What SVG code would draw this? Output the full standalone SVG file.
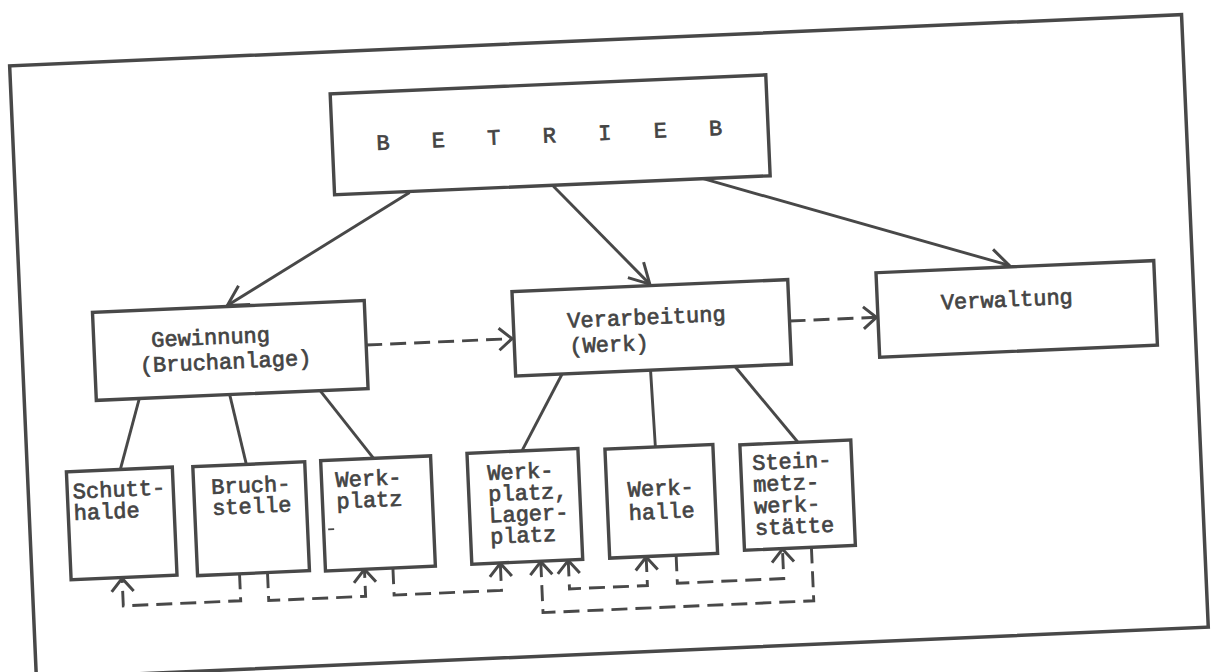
<svg xmlns="http://www.w3.org/2000/svg" width="1217" height="672" viewBox="0 0 1217 672">
  <style>
    .frame { fill: none; stroke: #484848; stroke-width: 3.5; }
    .box { fill: #ffffff; stroke: #484848; stroke-width: 3.4; }
    .solid { fill: none; stroke: #484848; stroke-width: 2.9; }
    .dash { fill: none; stroke: #484848; stroke-width: 2.9; stroke-dasharray: 16 8; }
    text { font-family: "Liberation Mono", "Courier New", monospace; font-size: 22px; fill: #444444; stroke: #444444; stroke-width: 0.7; }
  </style>
  <defs>
    <marker id="arrowBig" viewBox="-24 -15 26 30" markerWidth="26" markerHeight="30" refX="0" refY="0" orient="auto" markerUnits="userSpaceOnUse">
      <path d="M-20,-11 L0,0 L-20,11" fill="none" stroke="#484848" stroke-width="3" stroke-dasharray="none"/>
    </marker>
    <marker id="arrowSmall" viewBox="-16 -14 18 28" markerWidth="18" markerHeight="28" refX="0" refY="0" orient="auto" markerUnits="userSpaceOnUse">
      <path d="M-13,-11 L0,0 L-13,11" fill="none" stroke="#484848" stroke-width="3" stroke-dasharray="none"/>
    </marker>
    <marker id="arrowSmallStart" viewBox="-16 -14 18 28" markerWidth="18" markerHeight="28" refX="0" refY="0" orient="auto-start-reverse" markerUnits="userSpaceOnUse">
      <path d="M-13,-11 L0,0 L-13,11" fill="none" stroke="#484848" stroke-width="3" stroke-dasharray="none"/>
    </marker>
  </defs>
  <rect width="1217" height="672" fill="#ffffff"/>
  <g transform="rotate(-2.5 608 336)">
    <rect id="frame" class="frame" x="22" y="40" width="1173" height="613"/>

    <g id="connectors">
      <line class="solid" x1="416" y1="184" x2="229" y2="289" marker-end="url(#arrowBig)"/>
      <line class="solid" x1="560" y1="184" x2="652" y2="286" marker-end="url(#arrowBig)"/>
      <line class="solid" x1="710" y1="183" x2="1012" y2="283" marker-end="url(#arrowBig)"/>
      <line class="dash" x1="366" y1="334.5" x2="512" y2="334.5" marker-end="url(#arrowSmall)"/>
      <line class="dash" x1="790" y1="329" x2="877" y2="329" marker-end="url(#arrowSmall)"/>
      <line class="solid" x1="137" y1="378" x2="115" y2="448"/>
      <line class="solid" x1="227.5" y1="378" x2="241" y2="448"/>
      <line class="solid" x1="318" y1="378" x2="368.5" y2="448"/>
      <line class="solid" x1="560.5" y1="372" x2="517" y2="447"/>
      <line class="solid" x1="649" y1="372" x2="650.5" y2="449"/>
      <line class="solid" x1="733.5" y1="372" x2="793.5" y2="451"/>
      <path class="dash" d="M229.5,557 V584.5 H112 V557" marker-end="url(#arrowSmall)"/>
      <path class="dash" d="M257.5,557 V585.5 H354.5 V558.5" marker-end="url(#arrowSmall)"/>
      <path class="dash" d="M383,558.5 V585.5 H490.5 V558.5" marker-end="url(#arrowSmall)"/>
      <path class="dash" d="M558.5,558.5 V587 H636.5 V558.5" marker-start="url(#arrowSmallStart)" marker-end="url(#arrowSmall)"/>
      <path class="dash" d="M666.5,558 V586 H773 V556.5" marker-end="url(#arrowSmall)"/>
      <path class="dash" d="M802,556 V609.5 H531 V558.5" marker-end="url(#arrowSmall)"/>
    </g>

    <g id="betrieb">
      <rect class="box" x="341" y="82" width="436" height="101"/>
      <text x="385" y="140" letter-spacing="42.3">BETRIEB</text>
    </g>
    <g id="gewinnung">
      <rect class="box" x="94" y="290" width="272" height="88"/>
      <text x="151.5" y="327">Gewinnung</text>
      <text x="139" y="352">(Bruchanlage)</text>
    </g>
    <g id="verarbeitung">
      <rect class="box" x="514" y="287.5" width="276" height="84.5"/>
      <text x="568" y="326">Verarbeitung</text>
      <text x="569" y="351.5">(Werk)</text>
    </g>
    <g id="verwaltung">
      <rect class="box" x="878.5" y="284.5" width="278" height="84.5"/>
      <text x="942" y="324">Verwaltung</text>
    </g>
    <g id="schutthalde">
      <rect class="box" x="61" y="448" width="106" height="108"/>
      <text x="66.5" y="475">Schutt-</text>
      <text x="66.5" y="496.5">halde</text>
    </g>
    <g id="bruchstelle">
      <rect class="box" x="187.5" y="448.5" width="112" height="109"/>
      <text x="205" y="476.5">Bruch-</text>
      <text x="205" y="497.5">stelle</text>
    </g>
    <g id="werkplatz">
      <rect class="box" x="315.5" y="448" width="110" height="110.5"/>
      <text x="329.5" y="475">Werk-</text>
      <text x="329.5" y="496.5">platz</text>
      <line x1="320" y1="517" x2="326" y2="517" stroke="#484848" stroke-width="1.6"/>
    </g>
    <g id="werkplatz-lagerplatz">
      <rect class="box" x="462" y="447" width="111" height="111"/>
      <text x="481.5" y="474.7">Werk-</text>
      <text x="481.5" y="496">platz,</text>
      <text x="481.5" y="517.2">Lager-</text>
      <text x="481.5" y="538.4">platz</text>
    </g>
    <g id="werkhalle">
      <rect class="box" x="600" y="449" width="108" height="109"/>
      <text x="621" y="497.4">Werk-</text>
      <text x="621" y="520.8">halle</text>
    </g>
    <g id="steinmetzwerkstaette">
      <rect class="box" x="735" y="450.5" width="111" height="105.5"/>
      <text x="746.5" y="476.2">Stein-</text>
      <text x="746.5" y="497.9">metz-</text>
      <text x="746.5" y="519.6">werk-</text>
      <text x="746.5" y="541.3">stätte</text>
    </g>
  </g>
</svg>
